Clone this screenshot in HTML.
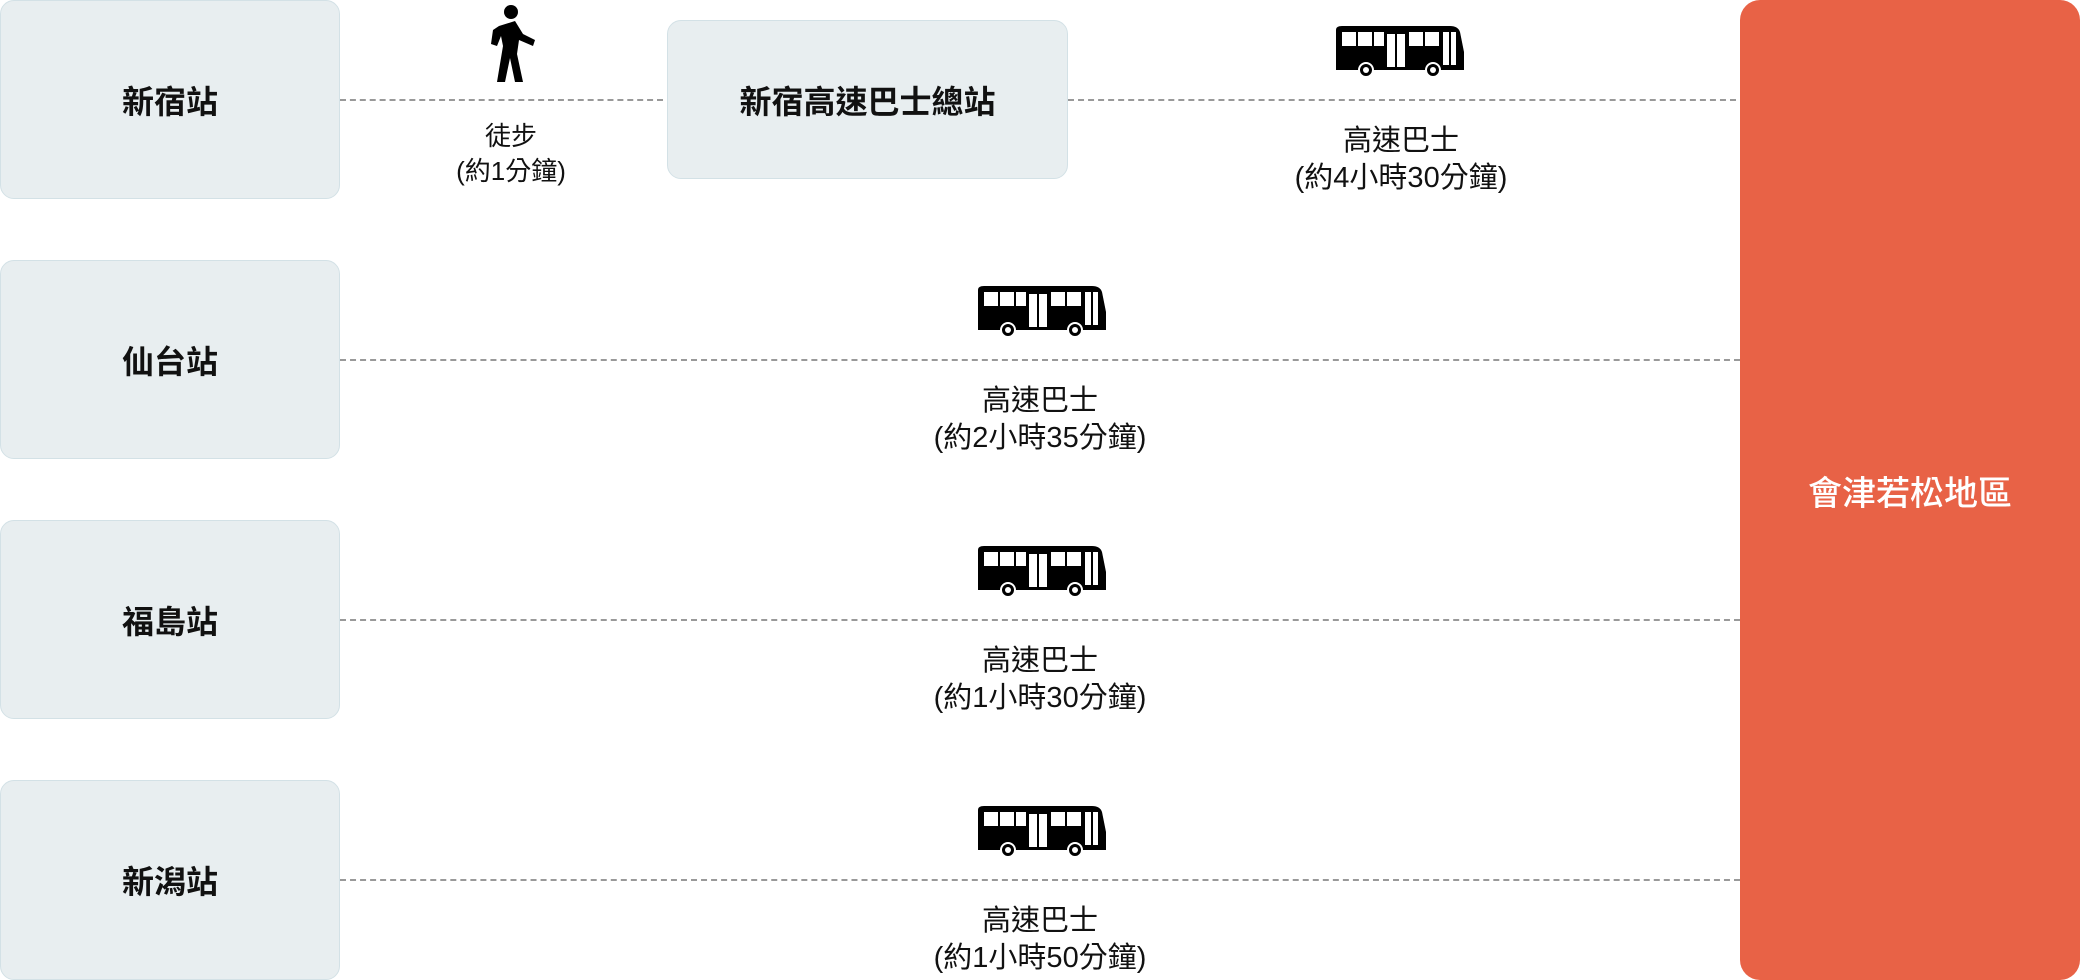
<!DOCTYPE html>
<html><head><meta charset="utf-8"><style>
body{margin:0;width:2080px;height:980px;background:#fff;position:relative;overflow:hidden;font-family:"Liberation Sans","Noto Sans CJK TC",sans-serif;color:#111}
.box{position:absolute;background:#e8eef0;border:1.5px solid #d3e1e6;border-radius:14px;box-sizing:border-box;display:flex;align-items:center;justify-content:center;font-size:32px;font-weight:700}
.line{position:absolute;height:0;border-top:2px dashed #999}
.lbl{position:absolute;text-align:center;font-size:29px;line-height:37px;transform:translateX(-50%);white-space:nowrap}
.bus{position:absolute;width:138px;height:56px}
</style></head><body>
<div class="box" style="left:0;top:0;width:340px;height:199px">新宿站</div>
<div class="box" style="left:0;top:260px;width:340px;height:199px">仙台站</div>
<div class="box" style="left:0;top:520px;width:340px;height:199px">福島站</div>
<div class="box" style="left:0;top:780px;width:340px;height:200px">新潟站</div>
<div class="box" style="left:667px;top:20px;width:401px;height:159px">新宿高速巴士總站</div>
<div style="position:absolute;left:1740px;top:0;width:340px;height:980px;background:#e86246;border-radius:20px;color:#fff;display:flex;align-items:center;justify-content:center;font-size:34px;font-weight:500">會津若松地區</div>
<div class="line" style="left:340px;top:99px;width:323px"></div>
<div class="line" style="left:1068px;top:99px;width:668px"></div>
<div class="line" style="left:340px;top:359px;width:1400px"></div>
<div class="line" style="left:340px;top:619px;width:1400px"></div>
<div class="line" style="left:340px;top:879px;width:1400px"></div>
<svg style="position:absolute;left:485px;top:4px" width="52" height="80" viewBox="0 0 52 80">
<circle cx="26" cy="8" r="7" fill="#000"/>
<path d="M14 22 L30 17 L38 30 L50 36 L48 42 L34 36 L32 50 L38 78 L30 78 L25 54 L20 78 L12 78 L18 42 L16 32 L12 42 L6 40 L8 26 Z" fill="#000"/>
</svg>
<div class="lbl" style="left:511px;top:119px;font-size:26px;line-height:35px">徒步<br>(約1分鐘)</div>
<svg width="0" height="0" style="position:absolute"><defs><symbol id="b" viewBox="0 0 138 56">
<path d="M6 8 Q6 4 12 4 L120 4 Q128 4 130 10 L134 30 L134 48 L6 48 Z" fill="#000"/>
<rect x="12" y="10" width="14" height="14" fill="#fff"/><rect x="28" y="10" width="14" height="14" fill="#fff"/><rect x="44" y="10" width="10" height="14" fill="#fff"/>
<rect x="57" y="12" width="8" height="33" fill="#fff"/><rect x="67" y="12" width="8" height="33" fill="#fff"/>
<rect x="79" y="10" width="14" height="14" fill="#fff"/><rect x="95" y="10" width="14" height="14" fill="#fff"/>
<rect x="113" y="10" width="6" height="33" fill="#fff"/><rect x="121" y="10" width="5" height="33" fill="#fff"/>
<circle cx="36" cy="48" r="7" fill="#000" stroke="#fff" stroke-width="2"/><circle cx="36" cy="48" r="3" fill="#fff"/>
<circle cx="103" cy="48" r="7" fill="#000" stroke="#fff" stroke-width="2"/><circle cx="103" cy="48" r="3" fill="#fff"/>
</symbol></defs></svg>
<svg class="bus" style="left:1330px;top:22px"><use href="#b"/></svg>
<svg class="bus" style="left:972px;top:282px"><use href="#b"/></svg>
<svg class="bus" style="left:972px;top:542px"><use href="#b"/></svg>
<svg class="bus" style="left:972px;top:802px"><use href="#b"/></svg>
<div class="lbl" style="left:1401px;top:123px">高速巴士<br>(約4小時30分鐘)</div>
<div class="lbl" style="left:1040px;top:383px">高速巴士<br>(約2小時35分鐘)</div>
<div class="lbl" style="left:1040px;top:643px">高速巴士<br>(約1小時30分鐘)</div>
<div class="lbl" style="left:1040px;top:903px">高速巴士<br>(約1小時50分鐘)</div>
</body></html>
